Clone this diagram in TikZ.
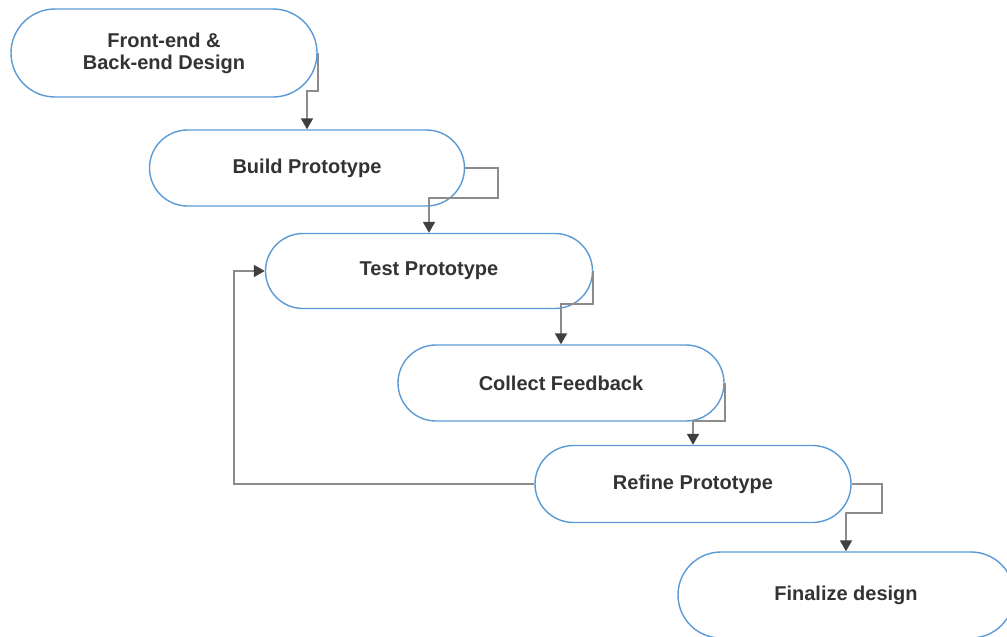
\documentclass[tikz,border=0pt]{standalone}
\usepackage{fontspec}
\setmainfont{Liberation Sans}
\usepackage{xcolor}
\usepackage{tikz}
\usetikzlibrary{shapes.misc,arrows.meta}
\definecolor{flowblue}{HTML}{5b9bd5}
\definecolor{flowgray}{HTML}{8c8c8c}
\definecolor{flowtip}{HTML}{3f3f3f}
\definecolor{flowtext}{HTML}{333333}

\begin{document}
\begin{tikzpicture}[x=1pt,y=-1pt,
  stage/.style={rounded rectangle,draw=flowblue,line width=1.4pt,fill=white,
    text=flowtext,font=\fontsize{20}{22}\selectfont\bfseries,align=center,inner sep=0pt},
  link/.style={draw=flowgray,line width=1.8pt,-{Triangle[width=12pt,length=11pt,color=flowtip]}}]
  \useasboundingbox (0,0) rectangle (1007,637);
  \node[stage,minimum width=306pt,minimum height=88pt] (design) at (164,53) {Front-end \&\\Back-end Design};
  \node[stage,minimum width=315pt,minimum height=76pt] (build) at (307,168) {Build Prototype};
  \node[stage,minimum width=327pt,minimum height=75pt] (test) at (429,271) {Test Prototype};
  \node[stage,minimum width=326pt,minimum height=76pt] (collect) at (561,383) {Collect Feedback};
  \node[stage,minimum width=316pt,minimum height=77pt] (refine) at (693,484) {Refine Prototype};
  \node[stage,minimum width=336pt,minimum height=86pt] (final) at (846,595) {Finalize design};
  % connectors
  \draw[link] (design.east) -- ++(0,38) -| (build.north);
  \draw[link] (build.east) -- ++(33,0) -- ++(0,30) -| (test.north);
  \draw[link] (test.east) -- ++(0,33) -| (collect.north);
  \draw[link] (collect.east) -- ++(0,38) -| (refine.north);
  \draw[link] (refine.east) -- ++(30,0) -- ++(0,29) -| (final.north);
  \draw[link] (refine.west) -- ++(-300,0) |- (test.west);
\end{tikzpicture}
\end{document}
